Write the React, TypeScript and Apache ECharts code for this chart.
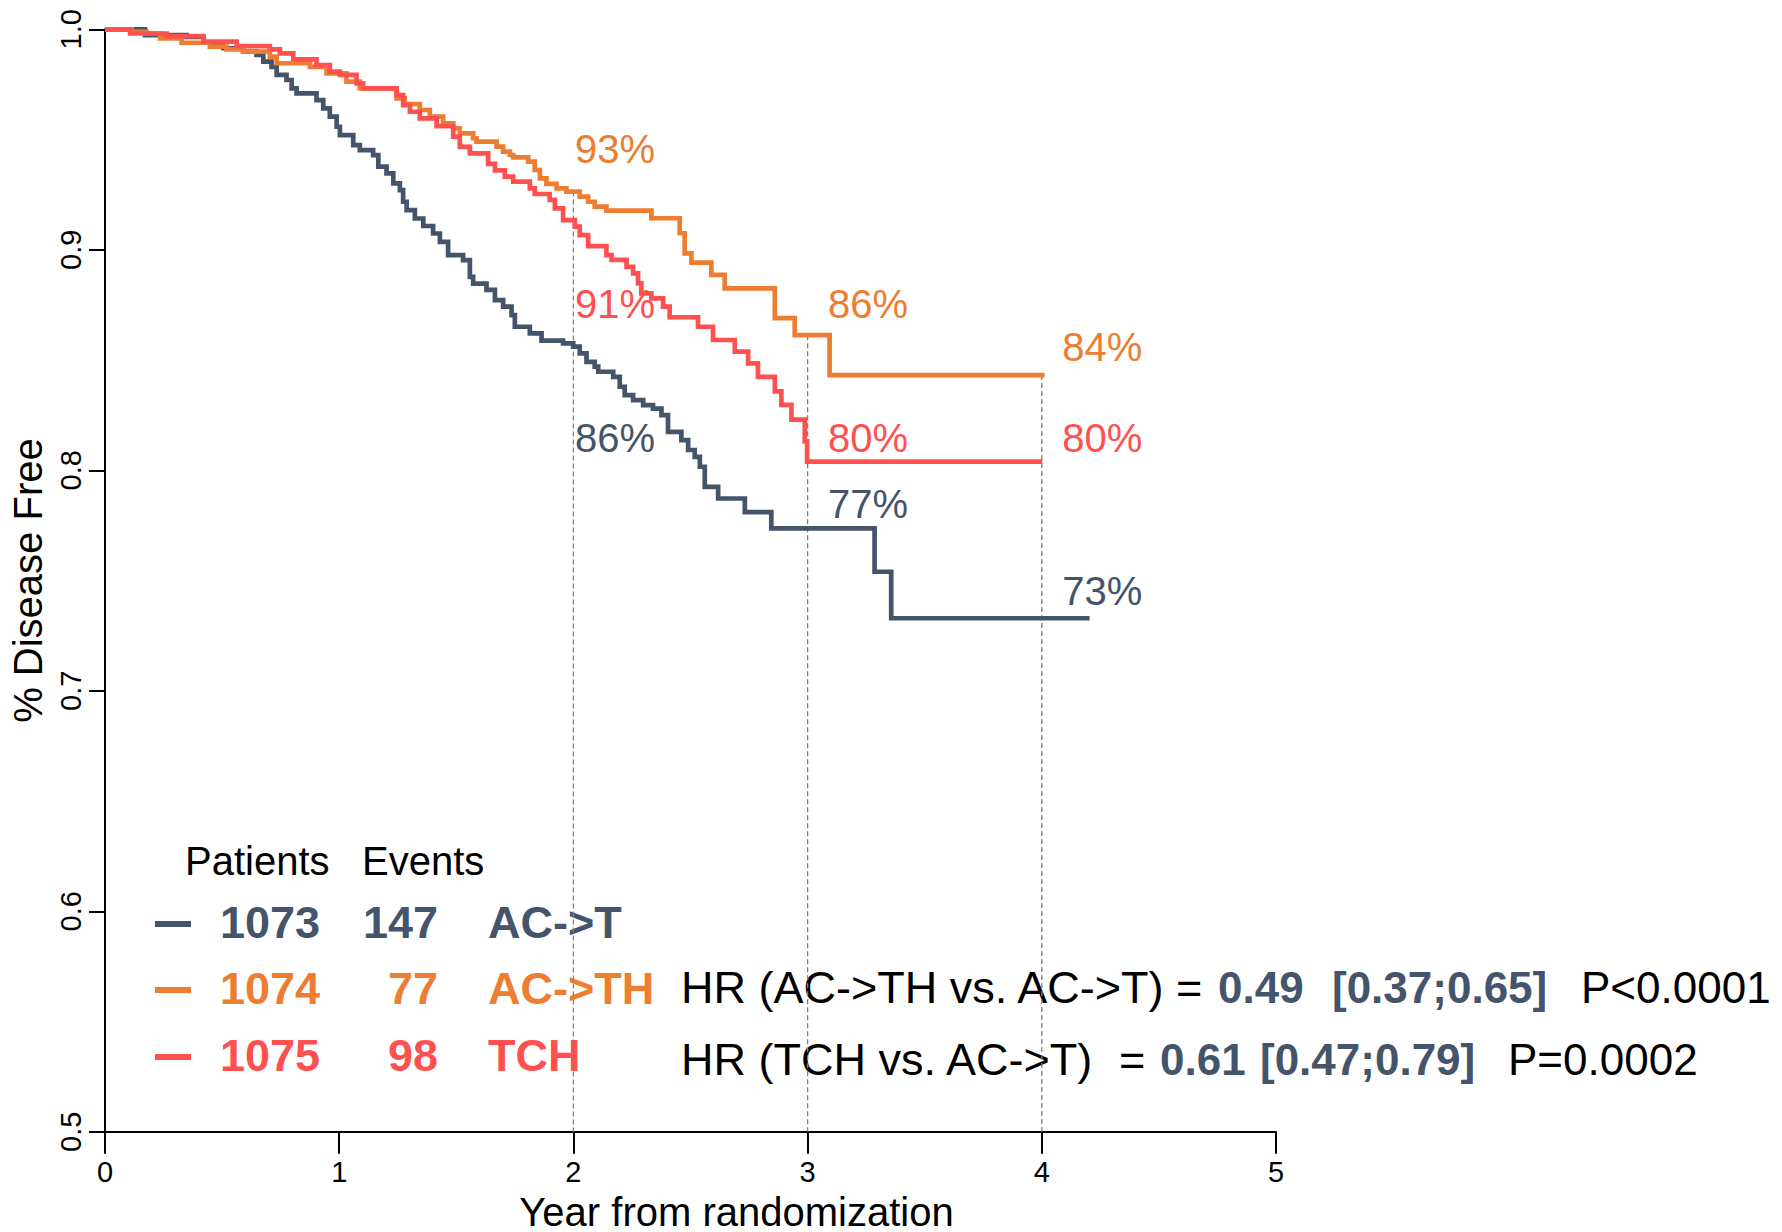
import React, { useEffect, useRef } from "react";
import * as echarts from "echarts";

const FONT = '"Liberation Sans", Arial, Helvetica, sans-serif';
const SLATE = "#44546A";
const ORANGE = "#ED7D31";
const RED = "#FF5050";
const DASH = "#7F7F7F";

// Kaplan–Meier estimates: at each time (years) the curve drops to the paired value.
const actTimes = [
  0, 0.171, 0.349, 0.42, 0.505, 0.59, 0.647, 0.676, 0.711, 0.733, 0.775, 0.797, 0.818, 0.903,
  0.932, 0.96, 0.989, 1.003, 1.06, 1.088, 1.145, 1.167, 1.202, 1.231, 1.259, 1.273, 1.288,
  1.323, 1.359, 1.401, 1.43, 1.465, 1.529, 1.558, 1.572, 1.629, 1.665, 1.7, 1.736, 1.75,
  1.814, 1.864, 1.956, 1.999, 2.027, 2.056, 2.091, 2.106, 2.17, 2.198, 2.219, 2.255, 2.298,
  2.34, 2.376, 2.404, 2.461, 2.49, 2.518, 2.54, 2.561, 2.618, 2.732, 2.845, 3.286, 3.357,
];
const actSurv = [
  1.0, 0.9974, 0.9966, 0.994, 0.9914, 0.9899, 0.9884, 0.9853, 0.983, 0.9793, 0.977, 0.9732,
  0.9709, 0.9679, 0.9641, 0.9604, 0.9558, 0.952, 0.9475, 0.9452, 0.9429, 0.9377, 0.9347,
  0.9301, 0.9271, 0.9218, 0.918, 0.9142, 0.9108, 0.9074, 0.9036, 0.8976, 0.8953, 0.8877,
  0.8847, 0.8818, 0.8772, 0.8742, 0.8704, 0.8651, 0.8621, 0.8588, 0.8576, 0.8561, 0.853,
  0.8492, 0.847, 0.8447, 0.8424, 0.8379, 0.8341, 0.8318, 0.8296, 0.828, 0.825, 0.8174,
  0.8137, 0.8092, 0.8061, 0.8016, 0.7925, 0.7872, 0.781, 0.7737, 0.754, 0.7329,
];
const actLastFollowUp = 4.204;

const acthTimes = [
  0, 0.114, 0.178, 0.235, 0.327, 0.448, 0.519, 0.59, 0.704, 0.733, 0.875, 0.946, 1.031,
  1.088, 1.245, 1.28, 1.344, 1.387, 1.444, 1.487, 1.515, 1.572, 1.586, 1.672, 1.7, 1.729,
  1.743, 1.807, 1.835, 1.857, 1.885, 1.928, 1.97, 2.027, 2.063, 2.091, 2.141, 2.333, 2.454,
  2.475, 2.504, 2.589, 2.646, 2.86, 2.945, 3.094,
];
const acthSurv = [
  1.0, 0.9989, 0.9981, 0.9959, 0.9939, 0.9921, 0.9909, 0.9899, 0.9876, 0.9846, 0.983, 0.98,
  0.9763, 0.9732, 0.9687, 0.9661, 0.9634, 0.9604, 0.9574, 0.9551, 0.9528, 0.9506, 0.9491,
  0.9468, 0.9445, 0.943, 0.9419, 0.94, 0.9362, 0.9324, 0.9299, 0.9279, 0.9264, 0.9241,
  0.9218, 0.9196, 0.9178, 0.9143, 0.9075, 0.8984, 0.8942, 0.8886, 0.8825, 0.869, 0.8613,
  0.8432,
];
const acthLastFollowUp = 4.012;

const tchTimes = [
  0, 0.107, 0.263, 0.42, 0.562, 0.704, 0.747, 0.804, 0.903, 0.96, 1.003, 1.074, 1.102, 1.245,
  1.273, 1.302, 1.344, 1.416, 1.487, 1.515, 1.558, 1.636, 1.665, 1.707, 1.743, 1.814, 1.835,
  1.899, 1.921, 1.956, 2.006, 2.027, 2.063, 2.141, 2.163, 2.227, 2.255, 2.276, 2.29, 2.333,
  2.383, 2.411, 2.532, 2.596, 2.689, 2.746, 2.788, 2.86, 2.888, 2.931, 2.988, 2.998,
];
const tchSurv = [
  1.0, 0.9981, 0.9969, 0.9944, 0.9924, 0.9909, 0.9891, 0.9864, 0.9838, 0.9808, 0.9793,
  0.9755, 0.9732, 0.9702, 0.9656, 0.9626, 0.9596, 0.9561, 0.9513, 0.9467, 0.9437, 0.939,
  0.936, 0.9332, 0.9309, 0.9279, 0.9253, 0.9226, 0.9188, 0.9135, 0.9105, 0.9067, 0.9017,
  0.8976, 0.8954, 0.8923, 0.8893, 0.8848, 0.8802, 0.878, 0.8742, 0.8694, 0.8651, 0.8591,
  0.8538, 0.8485, 0.8424, 0.8358, 0.8297, 0.823, 0.8131, 0.8039,
];
const tchLastFollowUp = 4.002;

const arms = ["AC->T", "AC->TH", "TCH"];
const armColors = [SLATE, ORANGE, RED];
const patients = [1073, 1074, 1075];
const events = [147, 77, 98];

const landmarkYears = [2, 3, 4];
const xTicks = [0, 1, 2, 3, 4, 5];
const yTicks = [0.5, 0.6, 0.7, 0.8, 0.9, 1.0];

const hrLabels = ["HR (AC->TH vs. AC->T) =", "HR (TCH vs. AC->T)"];
const hrEquals = ["", "="];
const hrEstimates = ["0.49", "0.61"];
const hrIntervals = ["[0.37;0.65]", "[0.47;0.79]"];
const hrPValues = ["P<0.0001", "P=0.0002"];

// Pixel offsets of each percentage label from its landmark point, per arm.
const labelOffsets = [
  [[1, 91], [20, -24], [20, -27]],
  [[1, -43], [20, -31], [20, -28]],
  [[1, 84], [20, -24], [20, -24]],
];

const curves = [
  { times: actTimes, surv: actSurv, end: actLastFollowUp },
  { times: acthTimes, surv: acthSurv, end: acthLastFollowUp },
  { times: tchTimes, surv: tchSurv, end: tchLastFollowUp },
];

function survAt(times: number[], surv: number[], t: number): number {
  let v = surv[0];
  for (let i = 0; i < times.length; i++) {
    if (times[i] <= t + 1e-9) v = surv[i];
    else break;
  }
  return v;
}

function stepPoints(times: number[], surv: number[], end: number): number[][] {
  const pts = times.map((t, i) => [t, surv[i]]);
  pts.push([end, surv[surv.length - 1]]);
  return pts;
}

function text(x: number, y: number, str: string, opts: any = {}) {
  const align = opts.align || "left";
  return {
    type: "text",
    x,
    y,
    z: 1,
    silent: true,
    style: {
      text: str,
      fill: opts.color || "#000",
      fontSize: opts.size || 44,
      fontWeight: opts.weight || "normal",
      fontFamily: FONT,
      align,
      verticalAlign: "middle",
      textAlign: align,
      textVerticalAlign: "middle",
    },
  };
}

export default function App() {
  const ref = useRef<HTMLDivElement>(null);

  useEffect(() => {
    if (!ref.current) return;
    const chart = echarts.init(ref.current, undefined, { renderer: "svg" });

    const orange = curves[1];
    const dashedSeries = landmarkYears.map((yr) => ({
      type: "line",
      silent: true,
      symbol: "none",
      z: 3,
      data: [
        [yr, survAt(orange.times, orange.surv, yr)],
        [yr, yTicks[0]],
      ],
      lineStyle: { color: DASH, width: 1.3, type: [5, 3] },
    }));

    const curveSeries = curves.map((c, i) => ({
      type: "line",
      name: arms[i],
      step: "end",
      symbol: "none",
      silent: true,
      z: 4 + i,
      data: stepPoints(c.times, c.surv, c.end),
      lineStyle: { color: armColors[i], width: 4.7, join: "miter" },
    }));

    const labelSeries = curves.map((c, i) => ({
      type: "scatter",
      silent: true,
      symbolSize: 1,
      z: 8,
      itemStyle: { color: "rgba(0,0,0,0)" },
      data: landmarkYears.map((yr, k) => ({
        value: [yr, survAt(c.times, c.surv, yr)],
        label: { offset: labelOffsets[i][k] },
      })),
      label: {
        show: true,
        position: "right",
        distance: 0,
        align: "left",
        verticalAlign: "middle",
        color: armColors[i],
        opacity: 1,
        textBorderWidth: 0,
        textShadowBlur: 0,
        fontSize: 40,
        fontFamily: FONT,
        formatter: (p: any) => Math.round(p.value[1] * 100) + "%",
      },
    }));

    // Risk table beneath the curves and the hazard-ratio summary
    const graphics: any[] = [];
    graphics.push(text(185, 861, "Patients", { size: 40 }));
    graphics.push(text(362, 861, "Events", { size: 40 }));
    const rowY = [922, 988, 1055];
    arms.forEach((arm, i) => {
      const col = armColors[i];
      graphics.push({
        type: "line",
        z: 1,
        silent: true,
        shape: { x1: 155, y1: rowY[i] + 2, x2: 191, y2: rowY[i] + 2 },
        style: { stroke: col, lineWidth: 6 },
      });
      graphics.push(text(220, rowY[i], String(patients[i]), { size: 45, weight: "bold", color: col }));
      graphics.push(text(438, rowY[i], String(events[i]), { size: 45, weight: "bold", color: col, align: "right" }));
      graphics.push(text(488, rowY[i], arm, { size: 45, weight: "bold", color: col }));
    });

    const hrY = [987, 1059];
    const hrX = [
      [681, 0, 1218, 1332, 1581],
      [681, 1119, 1160, 1260, 1508],
    ];
    hrY.forEach((y, i) => {
      graphics.push(text(hrX[i][0], y, hrLabels[i], { size: 45 }));
      if (hrEquals[i]) graphics.push(text(hrX[i][1], y, hrEquals[i], { size: 45 }));
      graphics.push(text(hrX[i][2], y, hrEstimates[i], { size: 44, weight: "bold", color: SLATE }));
      graphics.push(text(hrX[i][3], y, hrIntervals[i], { size: 44, weight: "bold", color: SLATE }));
      graphics.push(text(hrX[i][4], y, hrPValues[i], { size: 44 }));
    });

    chart.setOption({
      animation: false,
      backgroundColor: "#fff",
      textStyle: { fontFamily: FONT },
      grid: {
        left: 105,
        right: 506,
        top: 29.3,
        bottom: 100.2,
        containLabel: false,
        outerBoundsMode: "none",
      },
      xAxis: {
        type: "value",
        min: xTicks[0],
        max: xTicks[xTicks.length - 1],
        interval: 1,
        splitLine: { show: false },
        axisLine: { show: true, onZero: false, lineStyle: { color: "#000", width: 2 } },
        axisTick: { show: true, length: 22, lineStyle: { color: "#000", width: 2 } },
        axisLabel: { color: "#000", fontSize: 29, fontFamily: FONT, margin: 26 },
        name: "Year from randomization",
        nameLocation: "middle",
        nameGap: 60,
        nameTextStyle: {
          color: "#000",
          fontSize: 40,
          lineHeight: 34,
          fontFamily: FONT,
          padding: [0, 0, 0, 92],
        },
      },
      yAxis: {
        type: "value",
        min: yTicks[0],
        max: yTicks[yTicks.length - 1],
        interval: 0.1,
        splitLine: { show: false },
        axisLine: { show: true, onZero: false, lineStyle: { color: "#000", width: 2 } },
        axisTick: { show: true, length: 16, lineStyle: { color: "#000", width: 2 } },
        axisLabel: {
          color: "#000",
          fontSize: 29,
          fontFamily: FONT,
          rotate: 90,
          margin: 20,
          formatter: (v: number) => v.toFixed(1),
        },
        name: "% Disease Free",
        nameLocation: "middle",
        nameRotate: 90,
        nameGap: 45,
        nameTextStyle: { color: "#000", fontSize: 40, fontFamily: FONT },
      },
      series: [...dashedSeries, ...curveSeries, ...labelSeries],
      graphic: { elements: graphics },
    });

    return () => chart.dispose();
  }, []);

  return (
    <div
      ref={ref}
      style={{ position: "fixed", left: 0, top: 0, width: 1782, height: 1232, background: "#fff" }}
    />
  );
}
